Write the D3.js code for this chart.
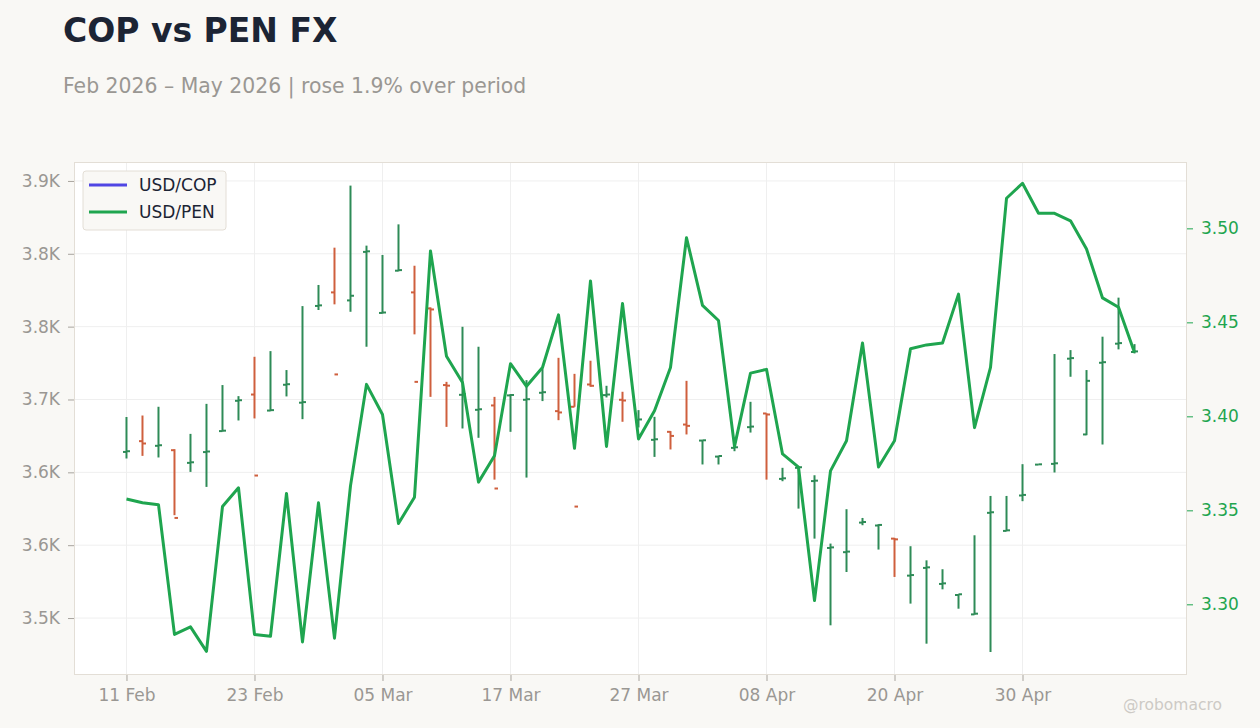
<!DOCTYPE html>
<html>
<head>
<meta charset="utf-8">
<script src="https://cdn.jsdelivr.net/npm/d3@7"></script>
<style>
  html, body { margin: 0; padding: 0; background: #f9f8f5; }
  svg { display: block; font-family: "DejaVu Sans", sans-serif; }
</style>
</head>
<body>
<div id="chart"></div>
<script>
// business days, Feb 11 - May 11 2026
const dates = [
  '2026-02-11','2026-02-12','2026-02-13','2026-02-16','2026-02-17','2026-02-18','2026-02-19','2026-02-20',
  '2026-02-23','2026-02-24','2026-02-25','2026-02-26','2026-02-27','2026-03-02','2026-03-03','2026-03-04',
  '2026-03-05','2026-03-06','2026-03-09','2026-03-10','2026-03-11','2026-03-12','2026-03-13','2026-03-16',
  '2026-03-17','2026-03-18','2026-03-19','2026-03-20','2026-03-23','2026-03-24','2026-03-25','2026-03-26',
  '2026-03-27','2026-03-30','2026-03-31','2026-04-01','2026-04-02','2026-04-03','2026-04-06','2026-04-07',
  '2026-04-08','2026-04-09','2026-04-10','2026-04-13','2026-04-14','2026-04-15','2026-04-16','2026-04-17',
  '2026-04-20','2026-04-21','2026-04-22','2026-04-23','2026-04-24','2026-04-27','2026-04-28','2026-04-29',
  '2026-04-30','2026-05-01','2026-05-04','2026-05-05','2026-05-06','2026-05-07','2026-05-08','2026-05-11'
];

// USD/COP OHLC
const copOpen = [
  3664, 3671.4, 3668.2, 3665.2, 3656.5, 3663.9, 3678.3, 3699.1, 3703.4, 3692.4, 3710.1, 3697.8, 3764.2, 3773.5, 3768, 3801.3,
  3759.4, 3788.4, 3773.5, 3762.5, 3709.9, 3703.2, 3692.9, 3695.9, 3702.8, 3699.8, 3704.6, 3692, 3695, 3710.3, 3703, 3699.8,
  3685.8, 3672.3, 3677.8, 3682.8, 3671.8, 3660.8, 3666.8, 3681, 3690.4, 3645.5, 3653.1, 3644, 3598.1, 3595.2, 3615.5, 3613.5,
  3604.5, 3579.1, 3584.4, 3573.4, 3565.8, 3552.5, 3622.2, 3609.8, 3634.1, 3655.3, 3655.8, 3728, 3676, 3725.2, 3738.3, 3732.6
];
const copHigh = [
  3688, 3689, 3695, 3665.9, 3676.4, 3697, 3709.9, 3702.3, 3729.3, 3733.2, 3720.2, 3764.1, 3778.6, 3804.2, 3846.8, 3805.6,
  3799.2, 3820.2, 3791.8, 3763.2, 3712.1, 3749.9, 3736.2, 3701.8, 3703.7, 3713.3, 3721.3, 3728.6, 3717.6, 3726.6, 3709.4, 3705.3,
  3692.7, 3688.1, 3678.3, 3712.8, 3672.1, 3661.3, 3673.2, 3698.4, 3690.5, 3653.1, 3653.6, 3648, 3601.1, 3624.7, 3618.7, 3614.4,
  3605, 3599.3, 3589.6, 3583.5, 3566.4, 3606.8, 3633.8, 3633.8, 3655.6, 3655.6, 3731.2, 3733.9, 3720.2, 3743.1, 3769.9, 3738
];
const copLow = [
  3659.5, 3661.3, 3660.2, 3620.6, 3650.3, 3640, 3678, 3685.6, 3687, 3692, 3702.1, 3686.5, 3761.4, 3765.3, 3760.2, 3736.2,
  3759, 3788, 3744.7, 3701.8, 3681.2, 3680.1, 3673.7, 3645, 3677.8, 3646.4, 3698.9, 3685.8, 3695, 3708.7, 3701.4, 3684.7,
  3680.8, 3660.6, 3665.7, 3676, 3655.4, 3655.4, 3664.5, 3677.3, 3645, 3643.9, 3625.1, 3604.5, 3545, 3581.6, 3613.7, 3597,
  3578.2, 3559.9, 3532.4, 3569.7, 3556.4, 3552.3, 3526.7, 3609.6, 3630.2, 3655.2, 3649.9, 3715.6, 3675.5, 3669.1, 3734.4, 3731.6
];
const copClose = [
  3664.5, 3669.8, 3668.6, 3618.7, 3656.9, 3664.3, 3678.6, 3699.5, 3647.8, 3692.7, 3710.5, 3698.2, 3764.6, 3717.2, 3771.2, 3801.7,
  3759.7, 3788.8, 3712.1, 3761.8, 3709.5, 3703.6, 3693.3, 3638.9, 3703.1, 3700.2, 3705, 3691.1, 3626.5, 3709.4, 3703.4, 3699.3,
  3686.3, 3672.7, 3675, 3681.9, 3672, 3661.2, 3667.2, 3681.4, 3689.7, 3645.9, 3653.5, 3644.3, 3598.5, 3595.6, 3615.9, 3613.9,
  3604, 3579.5, 3584.8, 3573.8, 3566.3, 3553, 3622.6, 3610.2, 3634.5, 3655.5, 3656.2, 3728.4, 3712.8, 3725.6, 3738.7, 3733
];

// USD/PEN close
const pen = [
  3.356, 3.354, 3.353, 3.284, 3.288, 3.275, 3.352, 3.362, 3.284, 3.283, 3.359, 3.280, 3.354, 3.282, 3.363, 3.417,
  3.401, 3.343, 3.357, 3.488, 3.432, 3.418, 3.365, 3.379, 3.428, 3.416, 3.426, 3.454, 3.383, 3.472, 3.384, 3.460,
  3.388, 3.403, 3.426, 3.495, 3.459, 3.451, 3.384, 3.423, 3.425, 3.380, 3.373, 3.302, 3.371, 3.387, 3.439, 3.373,
  3.387, 3.436, 3.438, 3.439, 3.465, 3.394, 3.426, 3.516, 3.524, 3.508, 3.508, 3.504, 3.489, 3.463, 3.458, 3.434
];

const copTicks = [3550, 3600, 3650, 3700, 3750, 3800, 3850];
const copTickLabels = ['3.5K', '3.6K', '3.6K', '3.7K', '3.8K', '3.8K', '3.9K'];
const penTicks = [3.30, 3.35, 3.40, 3.45, 3.50];
const xTickDates = ['2026-02-11','2026-02-23','2026-03-05','2026-03-17','2026-03-27','2026-04-08','2026-04-20','2026-04-30'];

const width = 1260, height = 728;
const plotL = 74, plotR = 1187, plotT = 162, plotB = 675;

const svg = d3.select('#chart').append('svg')
  .attr('width', width)
  .attr('height', height);

svg.append('rect').attr('width', width).attr('height', height).attr('fill', '#f9f8f5');

svg.append('text')
  .attr('x', 63).attr('y', 42)
  .attr('font-size', 33).attr('font-weight', 'bold')
  .attr('fill', '#1c2434')
  .text('COP vs PEN FX');

svg.append('text')
  .attr('x', 63).attr('y', 93)
  .attr('font-size', 20.4)
  .attr('fill', '#9a9793')
  .text('Feb 2026 \u2013 May 2026 | rose 1.9% over period');

const x = d3.scalePoint().domain(dates).range([plotL, plotR]).padding(3.28);
const yCop = d3.scaleLinear().domain([3510.9, 3863.0]).range([plotB, plotT]);
const yPen = d3.scaleLinear().domain([3.2624, 3.5353]).range([plotB, plotT]);

svg.append('rect')
  .attr('x', plotL).attr('y', plotT)
  .attr('width', plotR - plotL).attr('height', plotB - plotT)
  .attr('fill', '#ffffff');

// grid
const grid = svg.append('g');
grid.selectAll('.hg').data(copTicks).enter().append('line')
  .attr('x1', plotL).attr('x2', plotR)
  .attr('y1', d => yCop(d)).attr('y2', d => yCop(d))
  .attr('stroke', '#efefef').attr('stroke-width', 1);
grid.selectAll('.vg').data(xTickDates).enter().append('line')
  .attr('y1', plotT).attr('y2', plotB)
  .attr('x1', d => x(d)).attr('x2', d => x(d))
  .attr('stroke', '#efefef').attr('stroke-width', 1);

// OHLC bars
const ohlc = dates.map((d, i) => ({
  date: d, o: copOpen[i], h: copHigh[i], l: copLow[i], c: copClose[i]
}));
const upColor = '#2e8b57', downColor = '#cf5f3d';
const bars = svg.append('g').selectAll('g').data(ohlc).enter().append('g')
  .attr('stroke', d => d.c >= d.o ? upColor : downColor)
  .attr('stroke-width', 2);
bars.append('line')
  .attr('x1', d => x(d.date)).attr('x2', d => x(d.date))
  .attr('y1', d => yCop(d.h)).attr('y2', d => yCop(d.l));
bars.append('line')
  .attr('x1', d => x(d.date) - 3.5).attr('x2', d => x(d.date))
  .attr('y1', d => yCop(d.o)).attr('y2', d => yCop(d.o));
bars.append('line')
  .attr('x1', d => x(d.date)).attr('x2', d => x(d.date) + 3.5)
  .attr('y1', d => yCop(d.c)).attr('y2', d => yCop(d.c));

// PEN line
const penColor = '#1fa54f';
svg.append('path')
  .datum(pen)
  .attr('fill', 'none')
  .attr('stroke', penColor)
  .attr('stroke-width', 3)
  .attr('stroke-linejoin', 'round')
  .attr('d', d3.line().x((d, i) => x(dates[i])).y(d => yPen(d)));

// frame
svg.append('rect')
  .attr('x', plotL + 0.5).attr('y', plotT + 0.5)
  .attr('width', plotR - plotL - 1).attr('height', plotB - plotT - 1)
  .attr('fill', 'none').attr('stroke', '#e3ded6');

// axes
const parse = d3.timeParse('%Y-%m-%d');
const fmt = d3.timeFormat('%d %b');

const xAxis = svg.append('g')
  .attr('transform', `translate(0,${plotB})`)
  .call(d3.axisBottom(x).tickValues(xTickDates).tickSize(6).tickPadding(8)
    .tickFormat(d => fmt(parse(d))));
const yAxisL = svg.append('g')
  .attr('transform', `translate(${plotL},0)`)
  .call(d3.axisLeft(yCop).tickValues(copTicks).tickSize(6).tickPadding(8)
    .tickFormat((d, i) => copTickLabels[i]));
const yAxisR = svg.append('g')
  .attr('transform', `translate(${plotR},0)`)
  .call(d3.axisRight(yPen).tickValues(penTicks).tickSize(6).tickPadding(8)
    .tickFormat(d3.format('.2f')));

[xAxis, yAxisL, yAxisR].forEach(a => {
  a.select('.domain').remove();
  a.selectAll('text').attr('font-size', 17).attr('font-family', '"DejaVu Sans", sans-serif');
});
xAxis.selectAll('line').attr('stroke', '#a8a49e');
xAxis.selectAll('text').attr('fill', '#9a9793');
yAxisL.selectAll('line').attr('stroke', '#a8a49e');
yAxisL.selectAll('text').attr('fill', '#9a9793');
yAxisR.selectAll('line').attr('stroke', penColor);
yAxisR.selectAll('text').attr('fill', penColor);

// legend
const legendItems = [
  { name: 'USD/COP', color: '#5046e4' },
  { name: 'USD/PEN', color: penColor }
];
const lg = svg.append('g').attr('transform', 'translate(83,171)');
lg.append('rect')
  .attr('width', 143).attr('height', 59).attr('rx', 3)
  .attr('fill', '#f9f8f5').attr('stroke', '#e3ded6');
const li = lg.selectAll('.item').data(legendItems).enter().append('g')
  .attr('transform', (d, i) => `translate(0,${14 + i * 27})`);
li.append('line')
  .attr('x1', 6).attr('x2', 44)
  .attr('stroke', d => d.color).attr('stroke-width', 3);
li.append('text')
  .attr('x', 56).attr('y', 6)
  .attr('font-size', 17).attr('fill', '#1c2434')
  .text(d => d.name);

svg.append('text')
  .attr('x', 1222).attr('y', 710)
  .attr('text-anchor', 'end')
  .attr('font-size', 15.5).attr('fill', '#cdcac5')
  .text('@robomacro');
</script>
</body>
</html>
